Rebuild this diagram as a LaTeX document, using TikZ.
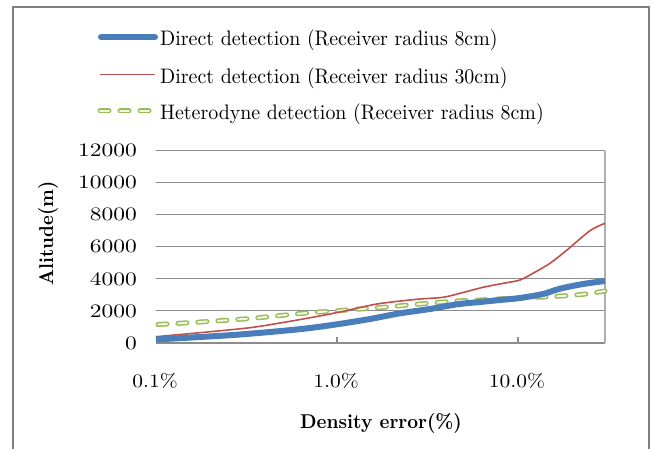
\documentclass[tikz,border=0pt]{standalone}
\usepackage{tikz}
\definecolor{serblue}{HTML}{4A7EBB}
\definecolor{serred}{HTML}{C0504D}
\definecolor{sergreen}{HTML}{9BBB59}
\definecolor{gridgray}{HTML}{8C8C8C}
\definecolor{framegray}{HTML}{7F7F7F}
% text set at its 10pt design size, then enlarged
\newcommand{\wtext}[3]{\scalebox{#1}[#2]{\fontsize{10}{12}\selectfont #3}}
\begin{document}
\begin{tikzpicture}[x=1pt,y=-1pt,
  gridline/.style={draw=gridgray,line width=1.1pt},
  blueline/.style={draw=serblue,line width=6pt,line join=round},
  redline/.style={draw=serred,line width=1.6pt,line join=round},
  greenouter/.style={draw=sergreen,line width=5pt,line cap=round,dash pattern=on 9pt off 11pt},
  greeninner/.style={draw=white!85!sergreen,line width=2pt,line cap=round,dash pattern=on 9pt off 11pt},
  legendtext/.style={anchor=base west,inner sep=0pt},
  ylab/.style={anchor=east,inner sep=0pt},
  xlab/.style={anchor=center,inner sep=0pt},
  axtitle/.style={anchor=center,inner sep=0pt}
]
\useasboundingbox (0,0) rectangle (656,449);
\fill[white] (0,0) rectangle (656,449);

% outer frame
\draw[framegray,line width=2pt] (13,455) -- (13,7) -- (649,7) -- (649,455);

% gridlines and axes
\foreach \v/\yy in {12000/150.7,10000/182.7,8000/214.8,6000/246.8,4000/278.9,2000/310.9}{
  \draw[gridline] (156,\yy) -- (605,\yy);
  \node[ylab] (yl\v) at (137,\yy) {\wtext{2.35}{1.9}{\v}};
}
\node[ylab] (yl0) at (137,343) {\wtext{2.35}{1.9}{0}};
\draw[gridline] (156,343) -- (605,343);
\draw[draw=gridgray!70,line width=1.6pt] (605,150.7) -- (605,343);
\coordinate (t1) at (337,343);
\coordinate (t10) at (518,343);
\draw[gridline] (t1) -- ++(0,-6);
\draw[gridline] (t10) -- ++(0,-6);

% x tick labels
\node[xlab] (x01) at (155,381) {\wtext{2.15}{1.9}{0.1\%}};
\node[xlab] (x1) at (336,381) {\wtext{2.15}{1.9}{1.0\%}};
\node[xlab] (x10) at (517,381) {\wtext{2.15}{1.9}{10.0\%}};

% axis titles
\node[axtitle] (xt) at (381,423) {\wtext{1.88}{2.0}{\bfseries Density error(\%)}};
\node[axtitle,rotate=90] (yt) at (48,233.5) {\wtext{1.85}{2.0}{\bfseries Alitude(m)}};

% data: heterodyne detection, 8 cm
\draw[greenouter] plot[smooth,tension=0.5] coordinates {(158,324.5) (200,322) (250,318.5) (303,313.3) (340,310.5) (383,307.3) (420,304) (457,301) (480,300) (517,298) (550,296.7) (583,294.3) (605,291)};
\draw[greeninner] plot[smooth,tension=0.5] coordinates {(158,324.5) (200,322) (250,318.5) (303,313.3) (340,310.5) (383,307.3) (420,304) (457,301) (480,300) (517,298) (550,296.7) (583,294.3) (605,291)};

% data: direct detection, 30 cm
\draw[redline] plot[smooth,tension=0.5] coordinates {(156,336.7) (200,332.7) (250,327.7) (280,323) (307,318.3) (340,312) (377,304) (417,299.3) (443,297.3) (460,293.3) (483,287.3) (505,283) (520,280) (533,273.3) (550,263.3) (567,250) (590,230.7) (605,223.3)};

% data: direct detection, 8 cm
\draw[blueline] plot[smooth,tension=0.5] coordinates {(156,339.5) (200,337) (233,335) (270,332) (306,328.5) (337,324.3) (370,319) (400,313.3) (430,309) (457,304.3) (480,302) (500,300) (520,298) (543,294) (560,288.7) (583,284) (605,281)};

% legend
\coordinate (lb1) at (101,37);
\coordinate (lb2) at (155,37);
\coordinate (lr1) at (100,74.5);
\coordinate (lr2) at (155,74.5);
\coordinate (lg1) at (100,111);
\coordinate (lg2) at (156,111);
\draw[blueline,line cap=round] (lb1) -- (lb2);
\draw[redline] (lr1) -- (lr2);
\draw[greenouter] (lg1) -- (lg2);
\draw[greeninner] (lg1) -- (lg2);
\node[legendtext] (leg1) at (160,46) {\wtext{1.99}{2.1}{Direct detection (Receiver radius 8cm)}};
\node[legendtext] (leg2) at (160,83.3) {\wtext{1.99}{2.1}{Direct detection (Receiver radius 30cm)}};
\node[legendtext] (leg3) at (160,120) {\wtext{1.99}{2.1}{Heterodyne detection (Receiver radius 8cm)}};
\end{tikzpicture}
\end{document}
